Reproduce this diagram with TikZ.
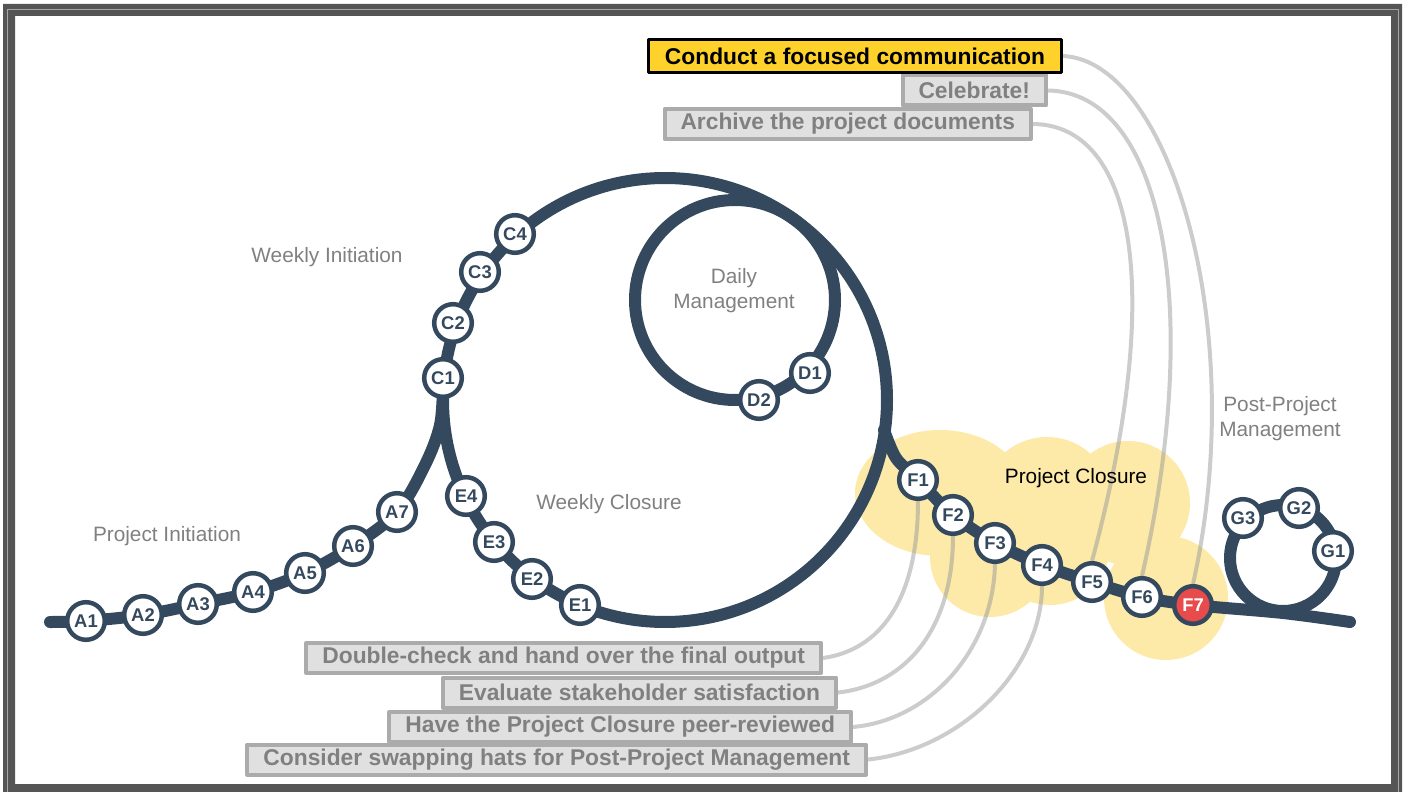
\documentclass[tikz,border=0pt]{standalone}
\usepackage{fontspec}
\setmainfont{Liberation Sans}

\begin{document}
\begin{tikzpicture}[
    x=0.5pt,
    y=-0.5pt,
    line cap=round,
    line join=round
]

\definecolor{TrackNavy}{HTML}{34495E}
\definecolor{StopRed}{HTML}{E84B4B}
\definecolor{SunYellow}{HTML}{FFD22B}
\definecolor{CloudYellow}{HTML}{FDEAA8}
\definecolor{TaskFill}{HTML}{E0E0E0}
\definecolor{TaskEdge}{HTML}{ABABAB}
\definecolor{LabelGray}{HTML}{808080}
\definecolor{FrameGray}{HTML}{555555}
\definecolor{FrameLight}{HTML}{A6A6A6}

\pgfdeclarelayer{cloud}
\pgfdeclarelayer{rail}
\pgfsetlayers{cloud,rail,main}

\tikzset{
    track/.style={
        draw=TrackNavy,
        line width=6pt,
        line cap=round
    },
    stop/.style={
        circle,
        draw=TrackNavy,
        fill=white,
        line width=2.25pt,
        minimum size=18.8pt,
        inner sep=0pt,
        text=TrackNavy,
        font=\bfseries\fontsize{9.2}{10}\selectfont
    },
    last stop/.style={
        stop,
        fill=StopRed,
        text=white
    },
    phase/.style={
        text=LabelGray,
        align=center,
        font=\fontsize{10.4}{12.5}\selectfont
    },
    task/.style={
        anchor=east,
        draw=TaskEdge,
        fill=TaskFill,
        line width=2pt,
        minimum height=15pt,
        inner xsep=8pt,
        inner ysep=0pt,
        text=LabelGray,
        font=\bfseries\fontsize{11.4}{13}\selectfont
    },
    key task/.style={
        task,
        draw=black,
        fill=SunYellow,
        line width=1.5pt,
        minimum height=16.5pt,
        text=black
    },
    lead/.style={
        draw=black!40,
        line width=2pt,
        opacity=0.5
    }
}

\useasboundingbox (0,0) rectangle (1410,792);

% frame
\fill[FrameGray, even odd rule] (3,4) rectangle (1402,800) (15,16) rectangle (1391,784);
\draw[FrameLight, line width=0.5pt] (7,800) -- (7,9.5) -- (1398.5,9.5) -- (1398.5,800);

% stops
\foreach \name/\x/\y in {A1/86/621, A2/143/615, A3/198/604, A4/253/592, A5/305/573, A6/353/546, A7/397/512,
    C1/443/378, C2/453/323, C3/480/272, C4/515/234,
    D1/810/373, D2/759/400,
    E1/580/605, E2/532/579, E3/494/542, E4/466/496,
    F1/918/480, F2/953/515, F3/995/543, F4/1042/565, F5/1092/582, F6/1142/597,
    G1/1333/551, G2/1299/508, G3/1243/518} {
    \node[stop] (\name) at (\x,\y) {\name};
}
\node[last stop] (F7) at (1193,605) {F7};

% phase labels
\node[phase] (weekInit) at (327,257) {Weekly Initiation};
\node[phase] (projInit) at (167,536) {Project Initiation};
\node[phase] (weekClose) at (609,504) {Weekly Closure};
\node[phase] (daily) at (734,291) {Daily\\Management};
\node[phase] (postProj) at (1280,419) {Post-Project\\Management};
\node[phase, text=black] (projClose) at (1076,478) {Project Closure};

% tasks
\node[task] (celebrate) at (1048,90.5) {Celebrate!};
\node[task] (archive) at (1033,124) {Archive the project documents};
\node[key task] (conduct) at (1062.5,56) {Conduct a focused communication};
\node[task] (handover) at (823,658) {Double-check and hand over the final output};
\node[task] (evaluate) at (838,692.5) {Evaluate stakeholder satisfaction};
\node[task] (review) at (853,727) {Have the Project Closure peer-reviewed};
\node[task] (hats) at (868,759.5) {Consider swapping hats for Post-Project Management};

\begin{pgfonlayer}{cloud}
    \fill[CloudYellow] (940,493) ellipse[x radius=85, y radius=63];
    \foreach \cx/\cy/\r in {1047/502/65, 1128/503/62, 990/557/60, 1050/545/60, 1166/598/62} {
        \fill[CloudYellow] (\cx,\cy) circle[radius=\r];
    }
\end{pgfonlayer}

\begin{pgfonlayer}{rail}
    % leads to the closure stops
    \draw[lead] (conduct.east) .. controls (1170,60) and (1250,330) .. (F7.north);
    \draw[lead] (celebrate.east) .. controls (1160,92) and (1205,300) .. (F6.north);
    \draw[lead] (archive.east) .. controls (1135,125) and (1165,290) .. (F5.north);
    \draw[lead] (handover.east) .. controls (880,650) and (918,600) .. (F1.south);
    \draw[lead] (evaluate.east) .. controls (905,685) and (953,630) .. (F2.south);
    \draw[lead] (review.east) .. controls (930,720) and (993,650) .. (F3.south);
    \draw[lead] (hats.east) .. controls (960,750) and (1042,670) .. (F4.south);

    % track
    \draw[track] plot[smooth, tension=0.55] coordinates {(50,622) (A1.center) (A2.center) (A3.center) (A4.center)
        (A5.center) (A6.center) (A7.center) (425,465) (440,425) (443,385)};
    \draw[track] (665,400) circle[radius=222];
    \draw[track] (735,300) circle[radius=100];
    \draw[track] plot[smooth, tension=0.5] coordinates {(884,430) (896,458) (F1.center) (F2.center) (F3.center)
        (F4.center) (F5.center) (F6.center) (F7.center) (1283,613) (1350,622)};
    \draw[track] (1283,558) circle[radius=53];
\end{pgfonlayer}

\end{tikzpicture}
\end{document}
